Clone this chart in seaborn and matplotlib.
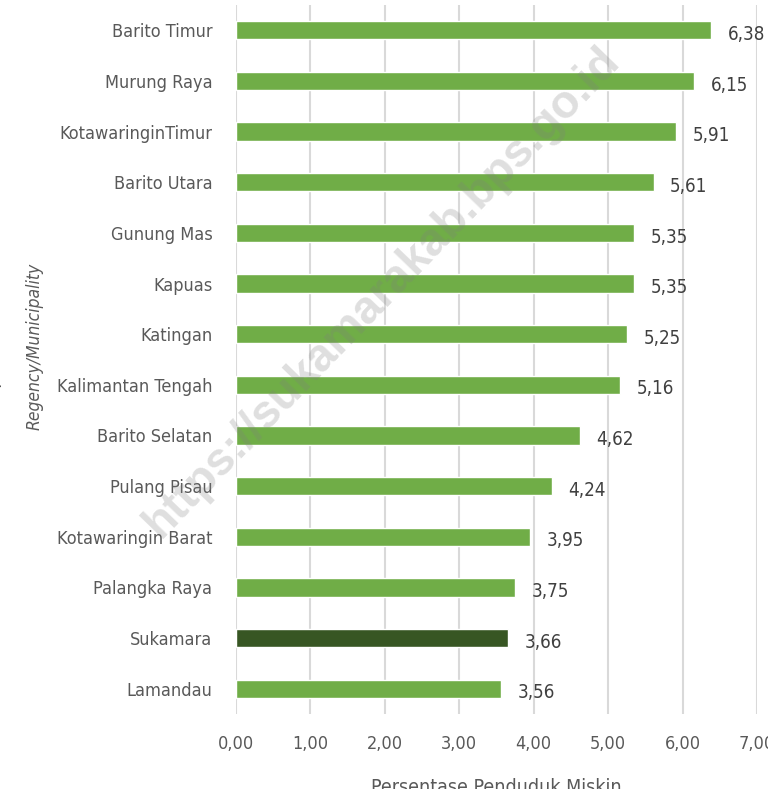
import matplotlib
matplotlib.use("Agg")
import matplotlib.pyplot as plt
import seaborn as sns
import pandas as pd

regions = [
    "Barito Timur", "Murung Raya", "KotawaringinTimur", "Barito Utara",
    "Gunung Mas", "Kapuas", "Katingan", "Kalimantan Tengah",
    "Barito Selatan", "Pulang Pisau", "Kotawaringin Barat",
    "Palangka Raya", "Sukamara", "Lamandau",
]
poverty_pct = [6.38, 6.15, 5.91, 5.61, 5.35, 5.35, 5.25, 5.16,
               4.62, 4.24, 3.95, 3.75, 3.66, 3.56]
highlight = "Sukamara"
x_ticks = [0, 1, 2, 3, 4, 5, 6, 7]

sns.set_theme(style="white")
plt.rcParams["font.family"] = ["DejaVu Sans"]
plt.rcParams["font.stretch"] = "condensed"

df = pd.DataFrame({"region": regions, "pct": poverty_pct})
palette = {r: ("#375623" if r == highlight else "#70AD47") for r in regions}

fig = plt.figure(figsize=(7.68, 7.89), dpi=100)
ax = fig.add_axes([236 / 768, 1 - 714 / 789, (757 - 236) / 768, (714 - 5) / 789])

sns.barplot(data=df, y="region", x="pct", hue="region", palette=palette,
            order=regions, width=0.36, legend=False, ax=ax, zorder=3,
            saturation=1)

ax.set_xlim(0, 7)
ax.set_ylim(len(regions) - 0.5, -0.5)
ax.set_xticks(x_ticks)
ax.set_xticklabels([f"{t:.2f}".replace(".", ",") for t in x_ticks])
ax.grid(axis="x", color="#d9d9d9", linewidth=1.5, zorder=1)
ax.grid(axis="y", visible=False)
for s in ax.spines.values():
    s.set_visible(False)
ax.tick_params(axis="y", length=0, pad=17, labelsize=13, labelcolor="#595959")
ax.tick_params(axis="x", length=0, pad=15, labelsize=13, labelcolor="#595959")

for i, v in enumerate(poverty_pct):
    ax.annotate(f"{v:.2f}".replace(".", ","), xy=(v, i), xytext=(12, -3),
                textcoords="offset points", ha="left", va="center",
                fontsize=13.5, color="#404040")

ax.set_xlabel("Persentase Penduduk Miskin", fontsize=14, color="#595959",
              labelpad=18)
ax.set_ylabel("")
fig.text(35 / 768, 1 - 346 / 789, "Regency/Municipality", rotation=90,
         ha="center", va="center", fontsize=12.5, style="italic", color="#595959")
fig.text(-9 / 768, 1 - 360 / 789, "Kabupaten/Kota", rotation=90,
         ha="center", va="center", fontsize=14, color="#595959")

# translucent site stamp across the plot
fig.text(382 / 768, 1 - 292 / 789, "https://sukamarakab.bps.go.id",
         rotation=46, ha="center", va="center", fontsize=33, fontweight="bold",
         family=["Liberation Sans", "DejaVu Sans"], fontstretch="normal",
         color="#7f7f7f", alpha=0.25, zorder=5)

fig.savefig("out.png", dpi=100)
